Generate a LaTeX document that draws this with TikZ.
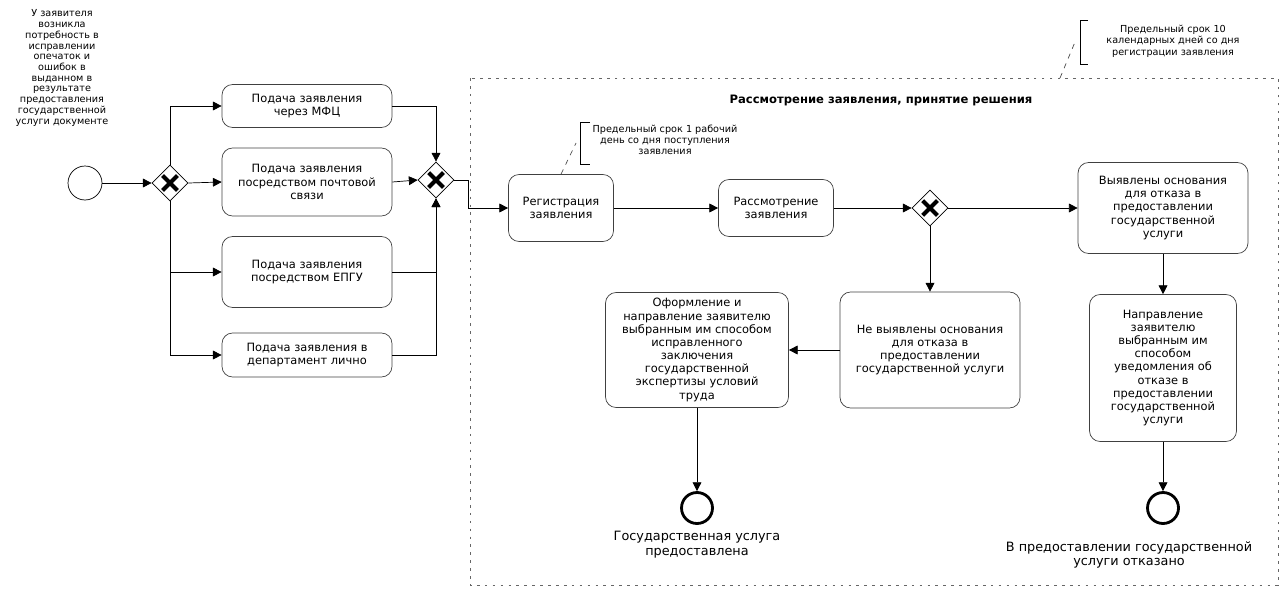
\documentclass[tikz,border=0pt]{standalone}
\usepackage{fontspec}
\setmainfont{DejaVu Sans}
\usetikzlibrary{positioning,shapes.geometric,arrows.meta}
\tikzstyle{tache}=[rectangle,rounded corners=6pt,draw=black!75,thin,align=center,inner sep=2pt,font=\fontsize{6.5}{7.5}\selectfont]
\tikzstyle{porte}=[diamond,draw,thin,minimum width=0.72cm,minimum height=0.72cm,inner sep=0pt,
  path picture={\draw[line width=2.3pt] ([shift={(-4.2pt,-4.2pt)}]path picture bounding box.center) -- ([shift={(4.2pt,4.2pt)}]path picture bounding box.center);
                \draw[line width=2.3pt] ([shift={(-4.2pt,4.2pt)}]path picture bounding box.center) -- ([shift={(4.2pt,-4.2pt)}]path picture bounding box.center);}]
\tikzstyle{debut}=[circle,draw,thin,minimum size=0.68cm,inner sep=0pt]
\tikzstyle{fin}=[circle,draw,line width=1.6pt,minimum size=0.62cm,inner sep=0pt]
\tikzstyle{note}=[align=center,font=\fontsize{5.5}{6.3}\selectfont]
\tikzstyle{etiquette}=[align=center,font=\fontsize{7.3}{8.4}\selectfont]

\begin{document}
\begin{tikzpicture}[x=0.02cm,y=-0.02cm,>={Triangle[length=5pt,width=5pt]}]
\useasboundingbox (0,0) rectangle (1283,588);

% couloir
\draw[black!60,dash pattern=on 1.5pt off 3pt] (470,78) rectangle (1278,585);
\node[font=\fontsize{6.6}{7}\selectfont\bfseries] (titre) at (881,100) {Рассмотрение заявления, принятие решения};

\node[note,font=\fontsize{5.5}{6.1}\selectfont] (besoin) at (62,68) {У заявителя\\возникла\\потребность в\\исправлении\\опечаток и\\ошибок в\\выданном в\\результате\\предоставления\\государственной\\услуги документе};

\node[debut] (D00) at (85,183) {};
\node[porte] (P10) at (170,183) {};
\node[tache,minimum width=3.4cm,minimum height=0.86cm] (T21) at (307,106) {Подача заявления\\через МФЦ};
\node[tache,minimum width=3.4cm,minimum height=1.36cm] (T22) at (307,182) {Подача заявления\\посредством почтовой\\связи};
\node[tache,minimum width=3.4cm,minimum height=1.42cm] (T23) at (307,272) {Подача заявления\\посредством ЕПГУ};
\node[tache,minimum width=3.4cm,minimum height=0.88cm] (T24) at (307,355) {Подача заявления в\\департамент лично};
\node[porte] (P30) at (436,180) {};
\coordinate (K30) at (468,180);

\node[tache,minimum width=2.1cm,minimum height=1.34cm] (T40) at (561,208) {Регистрация\\заявления};
\node[tache,minimum width=2.3cm,minimum height=1.14cm] (T50) at (776,208) {Рассмотрение\\заявления};
\node[porte] (P60) at (930,208) {};
\node[tache,minimum width=3.4cm,minimum height=1.82cm] (T71) at (1163,208) {Выявлены основания\\для отказа в\\предоставлении\\государственной\\услуги};
\node[tache,minimum width=3.6cm,minimum height=2.32cm] (T72) at (930,350) {Не выявлены основания\\для отказа в\\предоставлении\\государственной услуги};
\node[tache,minimum width=3.66cm,minimum height=2.3cm] (T82) at (697,350) {Оформление и\\направление заявителю\\выбранным им способом\\исправленного\\заключения\\государственной\\экспертизы условий\\труда};
\node[tache,minimum width=2.94cm,minimum height=2.94cm] (T81) at (1163,368) {Направление\\заявителю\\выбранным им\\способом\\уведомления об\\отказе в\\предоставлении\\государственной\\услуги};
\node[fin] (F92) at (697,508) {};
\node[fin] (F91) at (1163,508) {};
\node[etiquette] (L92) at (697,545) {Государственная услуга\\предоставлена};
\node[etiquette] (L91) at (1129,555) {В предоставлении государственной\\услуги отказано};

% annotations
\node[note] (N40) at (665,140) {Предельный срок 1 рабочий\\день со дня поступления\\заявления};
\draw (590,122) -- (580,122) -- (580,164) -- (590,164);
\coordinate (A40) at (576,143);
\node[note,font=\fontsize{5.5}{6.6}\selectfont] (N00) at (1173,41) {Предельный срок 10\\календарных дней со дня\\регистрации заявления};
\draw (1088,20) -- (1080,20) -- (1080,64) -- (1088,64);
\coordinate (A00) at (1075,42);
\coordinate (A01) at (1060,78);
\draw[dashed,black!70] (T40.north) -- (A40);
\draw[dashed,black!70] (A01) -- (A00);

% fleches
\draw[->] (D00) -- (P10);
\draw[->] (P10.north) |- (T21.west);
\draw[->] (P10.east) -- (T22.west);
\draw[->] (P10.south) |- (T23.west);
\draw[->] (P10.south) |- (T24.west);
\draw[->] (T21.east) -| (P30.north);
\draw[->] (T22.east) -- (P30.west);
\draw[->] (T23.east) -| (P30.south);
\draw[->] (T24.east) -| (P30.south);
\draw[->] (P30.east) -- (K30) |- (T40.west);
\draw[->] (T40.east) -- (T50.west);
\draw[->] (T50.east) -- (P60.west);
\draw[->] (P60.east) -- (T71.west);
\draw[->] (P60.south) -- (T72.north);
\draw[->] (T72.west) -- (T82.east);
\draw[->] (T82.south) -- (F92.north);
\draw[->] (T71.south) -- (T81.north);
\draw[->] (T81.south) -- (F91.north);

\end{tikzpicture}
\end{document}
